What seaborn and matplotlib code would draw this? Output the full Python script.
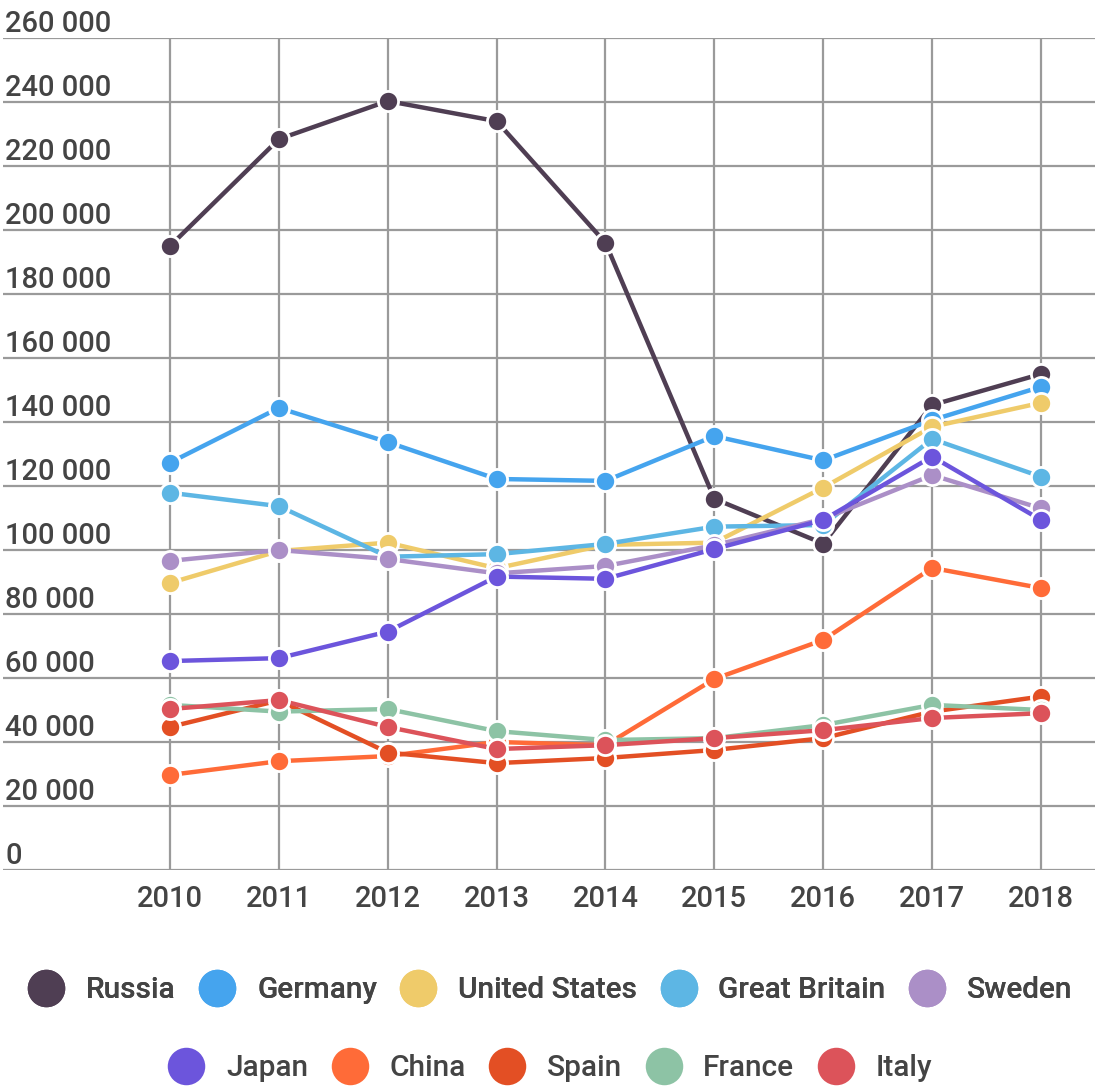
import matplotlib
matplotlib.use("Agg")
import matplotlib.pyplot as plt
from matplotlib.lines import Line2D
import seaborn as sns
import pandas as pd

years = [2010, 2011, 2012, 2013, 2014, 2015, 2016, 2017, 2018]
countries = ["Russia", "Germany", "United States", "Great Britain", "Sweden",
             "Japan", "China", "Spain", "France", "Italy"]
colors = ["#4f3e53", "#45a4ee", "#efcb6a", "#5db6e4", "#ab8fc7",
          "#6c55dc", "#ff6b38", "#e34f24", "#8dc3a5", "#dc535a"]

russia = [195000, 228400, 240300, 234000, 196000, 116000, 102000, 145300, 155000]
germany = [127300, 144400, 133700, 122200, 121600, 135600, 128000, 140600, 151000]
united_states = [89700, 99700, 102300, 94300, 101600, 102300, 119500, 138500, 146000]
great_britain = [117900, 113700, 97900, 98700, 101900, 107300, 107800, 134700, 122900]
sweden = [96600, 100000, 97200, 92700, 95000, 101500, 109700, 123400, 113000]
japan = [65300, 66200, 74500, 91700, 91000, 100300, 109400, 129200, 109400]
china = [29700, 34000, 35600, 40000, 39000, 59700, 71900, 94400, 88100]
spain = [44700, 53000, 36700, 33400, 35000, 37500, 41200, 49500, 54200]
france = [51600, 49500, 50300, 43400, 40600, 41200, 45300, 51600, 50000]
italy = [50300, 53100, 44700, 37800, 39000, 41200, 43700, 47500, 49000]

y_ticks = list(range(0, 260001, 20000))
y_labels = [f"{v:,}".replace(",", " ") for v in y_ticks]

series = [russia, germany, united_states, great_britain, sweden,
          japan, china, spain, france, italy]
rows = []
for c, vals in zip(countries, series):
    for yr, v in zip(years, vals):
        rows.append({"year": yr, "value": v, "country": c})
df = pd.DataFrame(rows)

sns.set_style("white")
plt.rcParams["font.family"] = ["Roboto", "DejaVu Sans"]
plt.rcParams["font.weight"] = "medium"
text_color = "#444444"
FS = 21

fig = plt.figure(figsize=(10.99, 10.89), dpi=100)
W, H = 1099, 1089
ax = fig.add_axes([3 / W, (H - 870) / H, (1095 - 3) / W, (870 - 38) / H])

sns.lineplot(data=df, x="year", y="value", hue="country", hue_order=countries,
             palette=dict(zip(countries, colors)), marker="o", markersize=14.5,
             markeredgecolor="white", markeredgewidth=2, linewidth=3.2,
             errorbar=None, legend=False, ax=ax)

px_per_year = (1041 - 170) / 8
ax.set_xlim(2010 - (170 - 3) / px_per_year, 2018 + (1095 - 1041) / px_per_year)
ax.set_ylim(0, 260000)
ax.set_xticks(years)
ax.set_xticklabels([str(y) for y in years], fontweight="medium")
ax.set_yticks(y_ticks)
ax.set_yticklabels([])
ax.tick_params(axis="both", length=0)
ax.tick_params(axis="x", pad=11, labelsize=FS, labelcolor=text_color)
ax.set_xlabel("")
ax.set_ylabel("")
for s in ax.spines.values():
    s.set_visible(False)
ax.set_axisbelow(True)
ax.grid(True, color="#9a9a9a", linewidth=1.6)

for v, lab in zip(y_ticks, y_labels):
    ax.text(0.002, v, lab, transform=ax.get_yaxis_transform(), ha="left",
            va="bottom", fontsize=FS, color=text_color, fontweight="medium")

def make_handles(names):
    return [Line2D([0], [0], marker="o", linestyle="none", markersize=27,
                   markerfacecolor=colors[countries.index(n)],
                   markeredgewidth=0) for n in names]

legend_kw = dict(loc="center", ncol=5, frameon=False, labelcolor=text_color,
                 prop={"size": 21.5, "weight": "medium"}, handlelength=1.3,
                 handletextpad=0.68, columnspacing=0.74)
row1 = countries[:5]
row2 = countries[5:]
leg1 = fig.legend(make_handles(row1), row1,
                  bbox_to_anchor=(0.5, (H - 990) / H), **legend_kw)
leg2 = fig.legend(make_handles(row2), row2,
                  bbox_to_anchor=(0.5, (H - 1068) / H), **legend_kw)
fig.add_artist(leg1)

fig.savefig("out.png", dpi=100)
